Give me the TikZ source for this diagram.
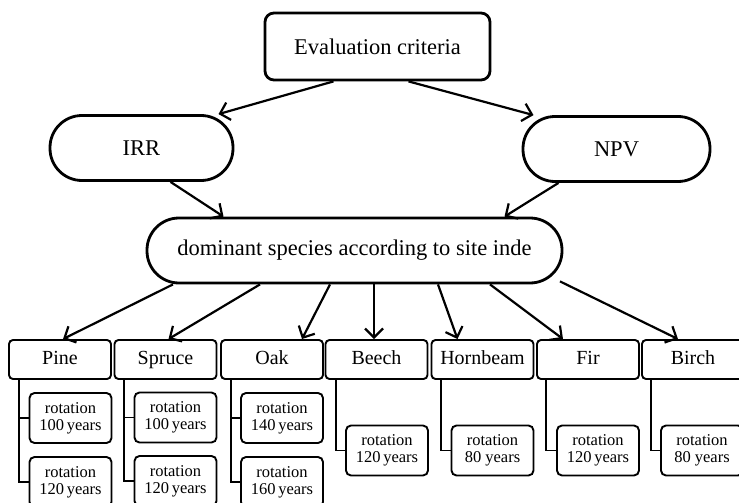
\documentclass[tikz,border=0pt]{standalone}
\usepackage{fontspec}
\setmainfont{Liberation Serif}
\usetikzlibrary{arrows.meta}
\tikzset{
  x=1pt,y=-1pt,
  topbox/.style={draw,line width=2.8pt,rounded corners=9pt,minimum width=225pt,minimum height=67pt,font=\fontsize{22.5}{26}\selectfont},
  pillbox/.style={draw,line width=2.8pt,rounded corners=32pt,minimum height=65pt,font=\fontsize{22.5}{26}\selectfont},
  spbox/.style={draw,line width=1.9pt,rounded corners=4pt,minimum width=102pt,minimum height=39pt,inner sep=0pt,text height=14pt,text depth=4pt,font=\fontsize{20}{24}\selectfont},
  rotbox/.style={draw,line width=1.9pt,rounded corners=5pt,minimum width=82pt,minimum height=50pt,inner sep=0pt,align=center,font=\fontsize{16.5}{17}\selectfont},
  arr/.style={line width=2.2pt,-{Straight Barb[length=9pt,width=18pt,line width=2.2pt]}},
  tree/.style={line width=1.9pt}
}
\begin{document}
\begin{tikzpicture}
\clip (0,0) rectangle (739,503);
\fill[white] (0,0) rectangle (739,503);
\node[topbox] (eval) at (377.5,46.5) {Evaluation criteria};
\node[pillbox,minimum width=183pt] (irr) at (141.5,148) {IRR};
\node[pillbox,minimum width=187pt] (npv) at (616.5,149) {NPV};
\node[pillbox,minimum width=415pt] (dom) at (354.5,250.5) {dominant species according to site inde};

\draw[arr] ([xshift=-44]eval.south) -- ([xshift=77]irr.north);
\draw[arr] ([xshift=31]eval.south) -- ([xshift=-83]npv.north);
\draw[arr] ([xshift=29]irr.south) -- ([xshift=-131]dom.north);
\draw[arr] ([xshift=-58]npv.south) -- ([xshift=150]dom.north);

\node[spbox] (pine) at (60,359.5) {Pine};
\node[spbox] (spruce) at (165.5,359.5) {Spruce};
\node[spbox] (oak) at (272,359.5) {Oak};
\node[spbox] (beech) at (376.5,359.5) {Beech};
\node[spbox] (hornbeam) at (482.5,359.5) {Hornbeam};
\node[spbox] (fir) at (588,359.5) {Fir};
\node[spbox] (birch) at (693,359.5) {Birch};

\draw[arr] ([xshift=-181.5]dom.south) -- ([xshift=3]pine.north);
\draw[arr] ([xshift=-94.5]dom.south) -- ([xshift=3]spruce.north);
\draw[arr] ([xshift=-24.5]dom.south) -- ([xshift=30]oak.north);
\draw[arr] ([xshift=19.5]dom.south) -- ([xshift=-2.5]beech.north);
\draw[arr] ([xshift=83.5]dom.south) -- ([xshift=-25]hornbeam.north);
\draw[arr] ([xshift=135.5]dom.south) -- ([xshift=-25]fir.north);
\draw[arr] ([xshift=205.5,yshift=3]dom.south) -- ([xshift=-15]birch.north);

\node[rotbox] (pr1) at (70.5,418) {rotation\\100\,years};
\node[rotbox] (pr2) at (70.5,482) {rotation\\120\,years};
\node[rotbox] (sr1) at (175.5,417.5) {rotation\\100\,years};
\node[rotbox] (sr2) at (175.5,481) {rotation\\120\,years};
\node[rotbox] (or1) at (282,418) {rotation\\140\,years};
\node[rotbox] (or2) at (282,482) {rotation\\160\,years};
\node[rotbox] (br1) at (387,450.5) {rotation\\120\,years};
\node[rotbox] (hr1) at (492.5,450.5) {rotation\\80 years};
\node[rotbox] (fr1) at (598,450.5) {rotation\\120\,years};
\node[rotbox] (bir1) at (702,450.5) {rotation\\80 years};

\draw[tree] ([xshift=11]pine.south west) |- (pr1.west);
\draw[tree] ([xshift=11]pine.south west) |- (pr2.west);
\draw[tree] ([xshift=10]spruce.south west) |- (sr1.west);
\draw[tree] ([xshift=10]spruce.south west) |- (sr2.west);
\draw[tree] ([xshift=11]oak.south west) |- (or1.west);
\draw[tree] ([xshift=11]oak.south west) |- (or2.west);
\draw[tree] ([xshift=11]beech.south west) |- (br1.west);
\draw[tree] ([xshift=10]hornbeam.south west) |- (hr1.west);
\draw[tree] ([xshift=10]fir.south west) |- (fr1.west);
\draw[tree] ([xshift=10]birch.south west) |- (bir1.west);
\end{tikzpicture}
\end{document}
